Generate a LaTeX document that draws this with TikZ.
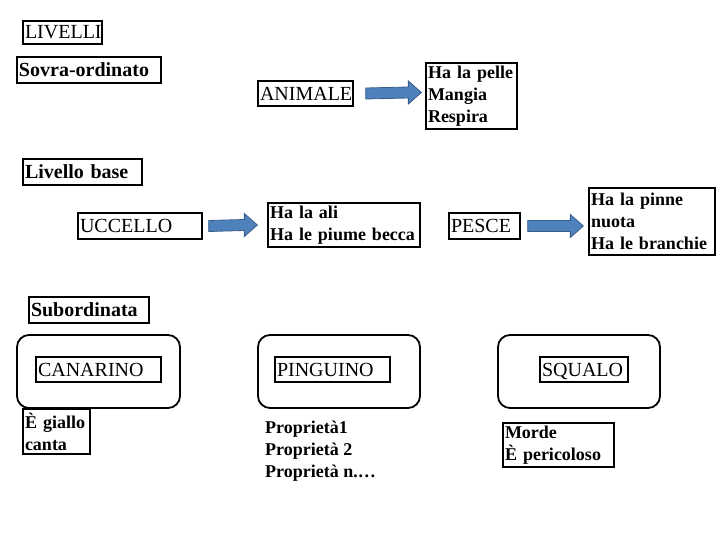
\documentclass[tikz,border=0pt]{standalone}
\usepackage{fontspec}
\setmainfont{Liberation Serif}
\usetikzlibrary{calc}
\definecolor{arrfill}{RGB}{79,129,189}
\definecolor{arrline}{RGB}{56,93,138}
\tikzset{
  bx/.style={draw, line width=1.3pt, inner xsep=2pt, inner ysep=0pt, align=left},
  big/.style={font=\fontsize{20}{24}\selectfont},
  bigb/.style={font=\fontsize{20}{24}\selectfont\bfseries},
  prop/.style={font=\fontsize{18}{22}\selectfont\bfseries},
  cont/.style={draw, line width=1.8pt, rounded corners=12pt},
  blockarrow/.style={fill=arrfill, draw=arrline, line width=0.8pt}
}
\newcommand{\blockarr}[2]{%
  \filldraw[blockarrow] ($(#1)+(0,5.5)$) -- ($(#2)+(-13,5.5)$) -- ($(#2)+(-13,11.5)$) -- (#2)
    -- ($(#2)+(-13,-11.5)$) -- ($(#2)+(-13,-5.5)$) -- ($(#1)+(0,-5.5)$) -- cycle;}
\begin{document}
\begin{tikzpicture}[x=1pt,y=-1pt]
\useasboundingbox (0,0) rectangle (720,540);
% level labels
\node[bx,big,text width=75pt,minimum height=23pt] (livelli) at (62.5,32.5) {LIVELLI};
\node[bx,bigb,text width=140pt,minimum height=26pt] (sovra) at (89,70) {Sovra-ordinato};
\node[bx,bigb,text width=115pt,minimum height=26pt] (base) at (82.5,172) {Livello base};
\node[bx,bigb,text width=116pt,minimum height=26pt] (sub) at (89,310) {Subordinata};
% top level
\node[bx,big,text width=91pt,minimum height=25pt] (animale) at (305.5,93.5) {ANIMALE};
\node[bx,prop,text width=87pt,minimum height=66pt] (pelle) at (471.5,96) {Ha la pelle\\Mangia\\Respira};
% base level
\node[bx,big,text width=120pt,minimum height=26pt] (uccello) at (140,226) {UCCELLO};
\node[bx,prop,text width=148pt,minimum height=44pt] (ali) at (344,225) {Ha la ali\\Ha le piume becca};
\node[bx,big,text width=67pt,minimum height=26pt] (pesce) at (484.5,226) {PESCE};
\node[bx,prop,text width=122pt,minimum height=67pt] (pinne) at (652,221.5) {Ha la pinne\\nuota\\Ha le branchie};
% subordinate level
\node[cont,minimum width=163pt,minimum height=73pt] (c1) at (98.5,371.5) {};
\node[cont,minimum width=162pt,minimum height=73pt] (c2) at (339,371.5) {};
\node[cont,minimum width=162pt,minimum height=73pt] (c3) at (579,371.5) {};
\node[bx,big,text width=121pt,minimum height=25pt] (canarino) at (98.5,369.5) {CANARINO};
\node[bx,big,text width=111pt,minimum height=25pt] (pinguino) at (332.5,369.5) {PINGUINO};
\node[bx,big,text width=84pt,minimum height=25pt,text depth=0pt] (squalo) at (584,369.5) {SQUALO};
\node[bx,prop,text width=63pt,minimum height=45pt] (giallo) at (56.5,431.5) {È giallo\\canta};
\node[prop,align=left,anchor=west,inner sep=0pt] (propr) at (265,451) {Proprietà1\\Proprietà 2\\Proprietà n.…};
\node[bx,prop,text width=107pt,minimum height=44pt] (morde) at (558.5,445) {Morde\\È pericoloso};
% block arrows
\coordinate (a1s) at ($(animale.east)+(12,0)$);
\coordinate (a1e) at ($(pelle.west |- animale.east)+(-4,-1)$);
\blockarr{a1s}{a1e}
\coordinate (a2s) at ($(uccello.east)+(6,0)$);
\coordinate (a2e) at ($(ali.west |- uccello.east)+(-10,-1)$);
\blockarr{a2s}{a2e}
\coordinate (a3s) at ($(pesce.east)+(7,0)$);
\coordinate (a3e) at ($(pinne.west |- pesce.east)+(-5,0)$);
\blockarr{a3s}{a3e}
\end{tikzpicture}
\end{document}
